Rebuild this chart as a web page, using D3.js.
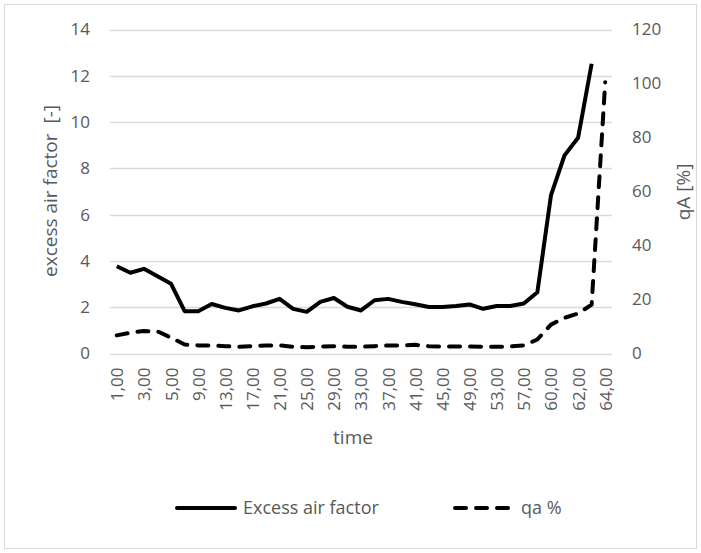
<!DOCTYPE html>
<html>
<head>
<meta charset="utf-8">
<script src="https://cdn.jsdelivr.net/npm/d3@7"></script>
<style>
  body { margin: 0; background: #fff; }
  text { font-family: "Open Sans", sans-serif; fill: #595959; }
</style>
</head>
<body>
<script>
var w = 701;
var h = 553;

// time categories (every other one is labelled on the axis)
var times = ["1,00","2,00","3,00","4,00","5,00","7,00","9,00","11,00","13,00","15,00",
             "17,00","19,00","21,00","23,00","25,00","27,00","29,00","31,00","33,00","35,00",
             "37,00","39,00","41,00","43,00","45,00","47,00","49,00","51,00","53,00","55,00",
             "57,00","59,00","60,00","61,00","62,00","63,00","64,00"];

// excess air factor [-] (left axis)
var excessAir = [3.77, 3.49, 3.66, 3.34, 3.01, 1.83, 1.83, 2.14, 1.97, 1.86,
                 2.04, 2.16, 2.36, 1.93, 1.80, 2.23, 2.40, 2.02, 1.86, 2.30,
                 2.36, 2.23, 2.13, 2.01, 2.01, 2.05, 2.12, 1.93, 2.05, 2.05,
                 2.16, 2.65, 6.83, 8.56, 9.32, 12.52, null];

// qa % (right axis)
var qa = [6.7, 7.7, 8.3, 8.2, 5.9, 3.3, 3.0, 3.0, 2.7, 2.5,
          2.7, 3.0, 3.0, 2.5, 2.3, 2.6, 2.7, 2.5, 2.5, 2.7,
          3.0, 3.0, 3.2, 2.7, 2.6, 2.6, 2.6, 2.5, 2.5, 2.6,
          3.0, 5.2, 10.7, 13.2, 14.8, 18.1, 100.5];

var leftTicks = [0, 2, 4, 6, 8, 10, 12, 14];
var rightTicks = [0, 20, 40, 60, 80, 100, 120];

var plotL = 110, plotR = 612, plotT = 29.5, plotB = 353.5;

var svg = d3.select("body").append("svg")
  .attr("width", w)
  .attr("height", h);

svg.append("rect")
  .attr("x", 4.5).attr("y", 4.5)
  .attr("width", 692).attr("height", 544)
  .attr("fill", "#fff")
  .attr("stroke", "#d9d9d9");

var x = d3.scalePoint().domain(times).range([plotL, plotR]).padding(0.5);
var yL = d3.scaleLinear().domain([0, 14]).range([plotB, plotT]);
var yR = d3.scaleLinear().domain([0, 120]).range([plotB, plotT]);

// gridlines
svg.append("g").selectAll("line")
  .data(leftTicks).enter().append("line")
  .attr("x1", plotL).attr("x2", plotR)
  .attr("y1", function(d) { return Math.round(yL(d)) + 0.5; })
  .attr("y2", function(d) { return Math.round(yL(d)) + 0.5; })
  .attr("stroke", "#d9d9d9")
  .attr("stroke-width", 1.3);

// left axis
var leftAxis = svg.append("g")
  .attr("transform", "translate(" + (plotL - 20) + ",0)")
  .call(d3.axisLeft(yL).tickValues(leftTicks).tickSize(0).tickPadding(0));
leftAxis.select(".domain").remove();
leftAxis.selectAll("text")
  .style("font-size", "17px")
  .style("font-family", "'Open Sans', sans-serif")
  .attr("fill", "#595959");

// right axis
var rightAxis = svg.append("g")
  .attr("transform", "translate(" + (plotR + 20) + ",0)")
  .call(d3.axisRight(yR).tickValues(rightTicks).tickSize(0).tickPadding(0));
rightAxis.select(".domain").remove();
rightAxis.selectAll("text")
  .style("font-size", "17px")
  .style("font-family", "'Open Sans', sans-serif")
  .attr("fill", "#595959");

// bottom axis, every other label, rotated
var bottomAxis = svg.append("g")
  .attr("transform", "translate(0," + plotB + ")")
  .call(d3.axisBottom(x)
    .tickValues(times.filter(function(d, i) { return i % 2 == 0; }))
    .tickSize(0));
bottomAxis.select(".domain").remove();
bottomAxis.selectAll("text")
  .style("font-size", "17px")
  .style("font-family", "'Open Sans', sans-serif")
  .attr("fill", "#595959")
  .attr("text-anchor", "end")
  .attr("dy", "0.35em")
  .attr("x", -14)
  .attr("y", 0)
  .attr("transform", "rotate(-90)");

// axis titles
svg.append("text")
  .attr("transform", "translate(57,191) rotate(-90)")
  .attr("text-anchor", "middle")
  .style("font-size", "19px")
  .style("white-space", "pre")
  .text("excess air factor  [-]");

svg.append("text")
  .attr("transform", "translate(690,192) rotate(-90)")
  .attr("text-anchor", "middle")
  .style("font-size", "19px")
  .text("qA [%]");

svg.append("text")
  .attr("x", 353).attr("y", 444)
  .attr("text-anchor", "middle")
  .style("font-size", "19px")
  .text("time");

// series
var lineL = d3.line()
  .defined(function(d) { return d != null; })
  .x(function(d, i) { return x(times[i]); })
  .y(function(d) { return yL(d); });

var lineR = d3.line()
  .defined(function(d) { return d != null; })
  .x(function(d, i) { return x(times[i]); })
  .y(function(d) { return yR(d); });

svg.append("path")
  .datum(qa)
  .attr("d", lineR)
  .attr("fill", "none")
  .attr("stroke", "#000")
  .attr("stroke-width", 4)
  .attr("stroke-linecap", "round")
  .attr("stroke-linejoin", "round")
  .attr("stroke-dasharray", "11,10");

svg.append("path")
  .datum(excessAir)
  .attr("d", lineL)
  .attr("fill", "none")
  .attr("stroke", "#000")
  .attr("stroke-width", 4)
  .attr("stroke-linejoin", "round");

// legend
var legend = [
  {name: "Excess air factor", x: 177, dash: null},
  {name: "qa %", x: 455, dash: "11,10"}
];
var lg = svg.append("g").selectAll("g")
  .data(legend).enter().append("g");
lg.append("line")
  .attr("x1", function(d) { return d.x; })
  .attr("x2", function(d) { return d.x + 58; })
  .attr("y1", 508).attr("y2", 508)
  .attr("stroke", "#000")
  .attr("stroke-width", 4)
  .attr("stroke-linecap", "round")
  .attr("stroke-dasharray", function(d) { return d.dash; });
lg.append("text")
  .attr("x", function(d) { return d.x + 66; })
  .attr("y", 508)
  .attr("dy", "0.35em")
  .style("font-size", "18px")
  .text(function(d) { return d.name; });
</script>
</body>
</html>
